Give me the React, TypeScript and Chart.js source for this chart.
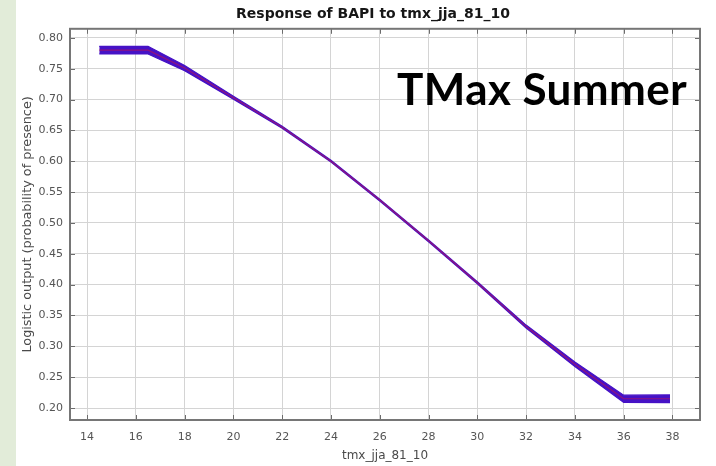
import { useEffect, useRef } from "react";
import { Chart, registerables } from "chart.js";

Chart.register(...registerables);

// Summer maximum temperature (tmx_jja_81_10) and the modelled BAPI response
const temperature = [14.5, 16.5, 18, 20, 22, 24, 26, 28, 30, 32, 34, 36, 37.9];
const meanResponse = [0.78, 0.78, 0.751, 0.703, 0.655, 0.6, 0.537, 0.471, 0.403, 0.332, 0.271, 0.215, 0.215];
const sdResponse = [0.0062, 0.0062, 0.0042, 0.0024, 0.0016, 0.0014, 0.0014, 0.0014, 0.0016, 0.0024, 0.0036, 0.0058, 0.0062];

const xTicks = [14, 16, 18, 20, 22, 24, 26, 28, 30, 32, 34, 36, 38];
const yTicks = [0.2, 0.25, 0.3, 0.35, 0.4, 0.45, 0.5, 0.55, 0.6, 0.65, 0.7, 0.75, 0.8];

const chartTitle = "Response of BAPI to tmx_jja_81_10";
const xTitle = "tmx_jja_81_10";
const yTitle = "Logistic output (probability of presence)";
const overlayText = "TMax Summer";

const FONT = "'DejaVu Sans', 'Liberation Sans', Arial, sans-serif";
const BAND = "#4612c6";
const MEAN = "rgba(175, 20, 95, 0.7)";

// Box around the axes with short inward tick marks on all four sides
const axesBox = {
  id: "axesBox",
  afterDraw(chart: any) {
    const { ctx, chartArea, scales } = chart;
    const { left, right, top, bottom } = chartArea;
    const x = scales.x;
    const y = scales.y;
    const len = 5;
    ctx.save();
    ctx.strokeStyle = "#6c6c6c";
    ctx.lineWidth = 1;
    ctx.beginPath();
    x.ticks.forEach((t: any) => {
      const px = Math.round(x.getPixelForValue(t.value)) + 0.5;
      ctx.moveTo(px, bottom);
      ctx.lineTo(px, bottom - len);
      ctx.moveTo(px, top);
      ctx.lineTo(px, top + len);
    });
    y.ticks.forEach((t: any) => {
      const py = Math.round(y.getPixelForValue(t.value)) + 0.5;
      ctx.moveTo(left, py);
      ctx.lineTo(left + len, py);
      ctx.moveTo(right, py);
      ctx.lineTo(right - len, py);
    });
    ctx.stroke();
    ctx.lineWidth = 2;
    ctx.strokeStyle = "#767676";
    ctx.strokeRect(left, top, right - left, bottom - top);
    ctx.restore();
  },
};

export default function App() {
  const canvasRef = useRef<HTMLCanvasElement>(null);

  useEffect(() => {
    const canvas = canvasRef.current;
    if (!canvas) return;

    const lower = temperature.map((t, i) => ({ x: t, y: meanResponse[i] - sdResponse[i] }));
    const upper = temperature.map((t, i) => ({ x: t, y: meanResponse[i] + sdResponse[i] }));
    const mean = temperature.map((t, i) => ({ x: t, y: meanResponse[i] }));

    const chart = new Chart(canvas, {
      type: "line",
      data: {
        datasets: [
          {
            label: "mean - sd",
            data: lower,
            borderColor: BAND,
            borderWidth: 1.2,
            pointRadius: 0,
            fill: false,
            tension: 0,
            order: 2,
          },
          {
            label: "mean + sd",
            data: upper,
            borderColor: BAND,
            backgroundColor: BAND,
            borderWidth: 1.2,
            pointRadius: 0,
            fill: "-1",
            tension: 0,
            order: 1,
          },
          {
            label: "mean",
            data: mean,
            borderColor: MEAN,
            borderWidth: 1.2,
            pointRadius: 0,
            fill: false,
            tension: 0,
            order: 0,
          },
        ],
      },
      options: {
        responsive: false,
        animation: false,
        layout: { padding: 0 },
        plugins: {
          legend: { display: false },
          tooltip: { enabled: false },
          title: {
            display: true,
            text: chartTitle,
            color: "#161616",
            font: { family: FONT, size: 14, weight: "bold" },
            padding: { top: 6, bottom: 6 },
          },
        },
        scales: {
          x: {
            type: "linear",
            min: 13.3,
            max: 39.13,
            afterBuildTicks: (s: any) => {
              s.ticks = xTicks.map((v) => ({ value: v }));
            },
            afterFit: (s: any) => {
              s.height = 46;
            },
            grid: { color: "#d4d4d4", lineWidth: 1, drawTicks: false },
            border: { display: false },
            ticks: {
              color: "#555",
              font: { family: FONT, size: 11 },
              padding: 11,
              maxRotation: 0,
              callback: (v: any) => String(v),
            },
            title: {
              display: true,
              text: xTitle,
              color: "#4a4a4a",
              font: { family: FONT, size: 12 },
              padding: { top: 0, bottom: 3 },
            },
          },
          y: {
            type: "linear",
            min: 0.1806,
            max: 0.8146,
            afterBuildTicks: (s: any) => {
              s.ticks = yTicks.map((v) => ({ value: v }));
            },
            afterFit: (s: any) => {
              s.width = 54;
            },
            grid: { color: "#d4d4d4", lineWidth: 1, drawTicks: false },
            border: { display: false },
            ticks: {
              color: "#555",
              font: { family: FONT, size: 11 },
              padding: 7,
              callback: (v: any) => Number(v).toFixed(2),
            },
            title: {
              display: true,
              text: yTitle,
              color: "#4a4a4a",
              font: { family: FONT, size: 12.8 },
              padding: { top: 4, bottom: 0 },
            },
          },
          yRight: {
            type: "linear",
            position: "right",
            display: true,
            afterFit: (s: any) => {
              s.width = 30;
            },
            grid: { display: false, drawTicks: false },
            border: { display: false },
            ticks: { display: false },
          },
        },
      },
      plugins: [axesBox],
    } as any);

    return () => chart.destroy();
  }, []);

  return (
    <div
      style={{
        position: "fixed",
        left: 0,
        top: 0,
        width: 716,
        height: 466,
        background: "#ffffff",
        overflow: "hidden",
      }}
    >
      <div
        style={{
          position: "absolute",
          left: 0,
          top: 0,
          width: 16,
          height: 466,
          background: "#e2ecd9",
        }}
      />
      <div style={{ position: "absolute", left: 16, top: 0, width: 714, height: 466 }}>
        <canvas ref={canvasRef} width={714} height={466} style={{ display: "block" }} />
      </div>
      <div
        style={{
          position: "absolute",
          left: 397,
          top: 66,
          fontFamily: "Lato, 'Open Sans', sans-serif",
          fontWeight: 700,
          fontSize: 44,
          letterSpacing: 0.4,
          lineHeight: 1,
          color: "#000",
          whiteSpace: "nowrap",
        }}
      >
        {overlayText}
      </div>
    </div>
  );
}
